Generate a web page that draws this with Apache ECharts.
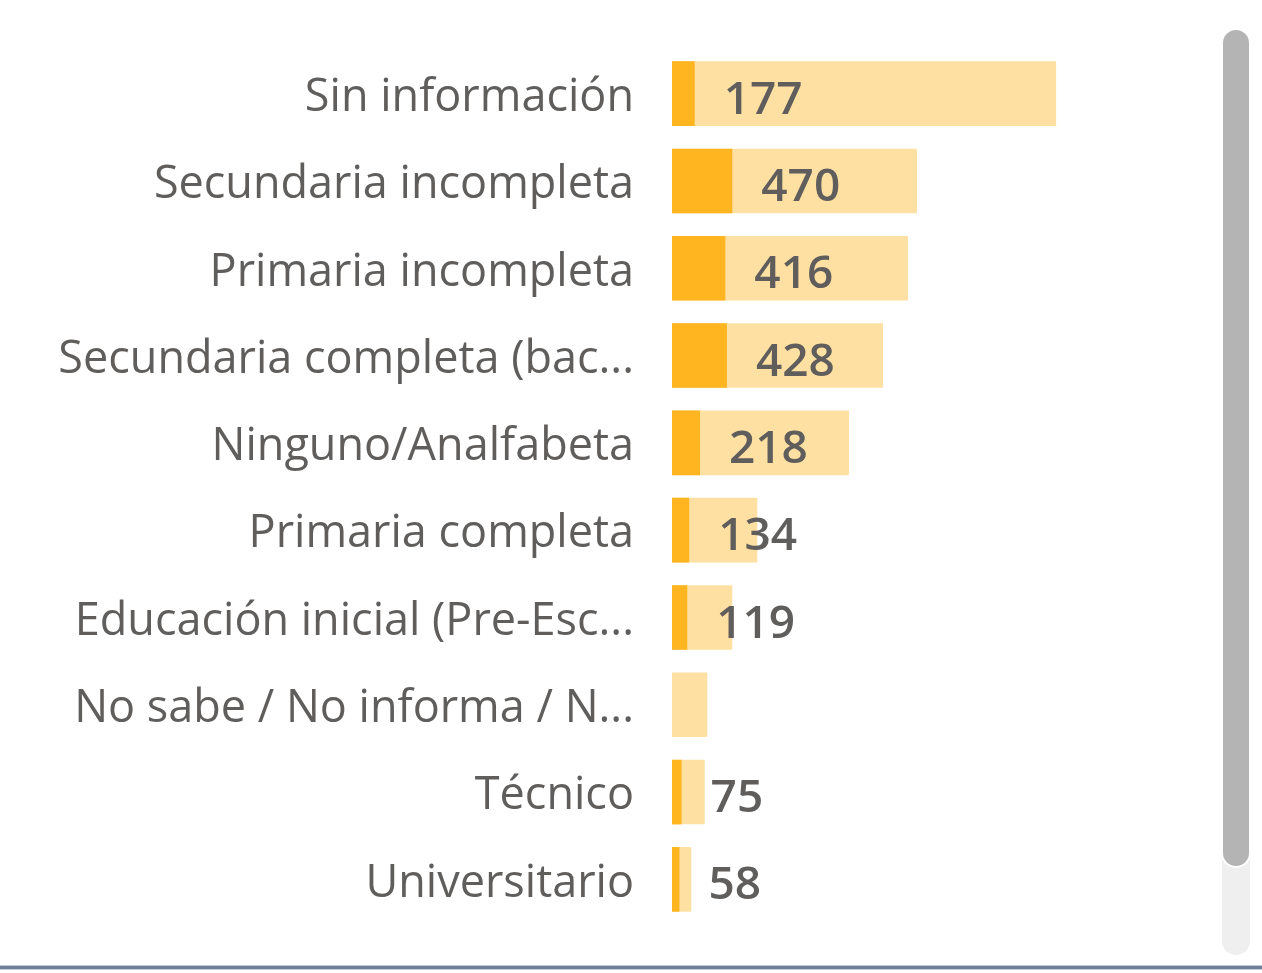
<!DOCTYPE html>
<html>
<head>
<meta charset="utf-8">
<script src="https://cdn.jsdelivr.net/npm/echarts@6/dist/echarts.min.js"></script>
<style>
  html, body { margin: 0; padding: 0; background: #fff; }
  #main { width: 1262px; height: 973px; }
</style>
</head>
<body>
<div id="main"></div>
<script>
// nivel educativo
const categories = [
  'Sin información',
  'Secundaria incompleta',
  'Primaria incompleta',
  'Secundaria completa (bac...',
  'Ninguno/Analfabeta',
  'Primaria completa',
  'Educación inicial (Pre-Esc...',
  'No sabe / No informa / N...',
  'Técnico',
  'Universitario'
];
// light bar (total), sorted descending
const totals = [2995, 1910, 1840, 1645, 1380, 665, 470, 275, 255, 150];
// dark bar, labelled
const values = [177, 470, 416, 428, 218, 134, 119, null, 75, 58];

const chart = echarts.init(document.getElementById('main'));
const fontFamily = '"Segoe UI", "Open Sans", "Noto Sans", sans-serif';

chart.setOption({
  animation: false,
  grid: { left: 672, right: 77, top: 50, bottom: 50, containLabel: false },
  xAxis: {
    type: 'value',
    min: 0,
    max: 4000,
    show: false
  },
  yAxis: {
    type: 'category',
    data: categories,
    inverse: true,
    axisLine: { show: false },
    axisTick: { show: false },
    axisLabel: {
      margin: 38,
      formatter: (v) => '{c|' + v + '}',
      rich: {
        c: {
          padding: [9, 0, 0, 0],
          fontFamily: fontFamily,
          fontSize: 45,
          color: '#605E5C'
        }
      }
    }
  },
  series: [
    {
      type: 'bar',
      data: totals,
      barCategoryGap: '26%',
      itemStyle: { color: '#FFE0A3' },
      silent: true
    },
    {
      type: 'bar',
      data: values,
      barGap: '-100%',
      itemStyle: { color: '#FEB51F' },
      label: {
        show: true,
        position: 'right',
        distance: 29,
        offset: [0, 7],
        fontFamily: fontFamily,
        fontSize: 46,
        fontWeight: 600,
        color: '#605E5C'
      }
    }
  ],
  graphic: [
    // scrollbar track + thumb
    { type: 'rect', shape: { x: 1222, y: 30, width: 28, height: 925, r: 14 }, style: { fill: '#EFEFEF' } },
    { type: 'rect', shape: { x: 1222, y: 29, width: 28, height: 838, r: 14 }, style: { fill: '#B4B4B4', stroke: '#FFFFFF', lineWidth: 2 } },
    // bottom border
    { type: 'rect', shape: { x: 0, y: 965, width: 1262, height: 1 }, style: { fill: '#C5CCD8' } },
    { type: 'rect', shape: { x: 0, y: 966, width: 1262, height: 3 }, style: { fill: '#6F7F9A' } },
    { type: 'rect', shape: { x: 0, y: 969, width: 1262, height: 1 }, style: { fill: '#C5CCD8' } }
  ]
});
</script>
</body>
</html>
